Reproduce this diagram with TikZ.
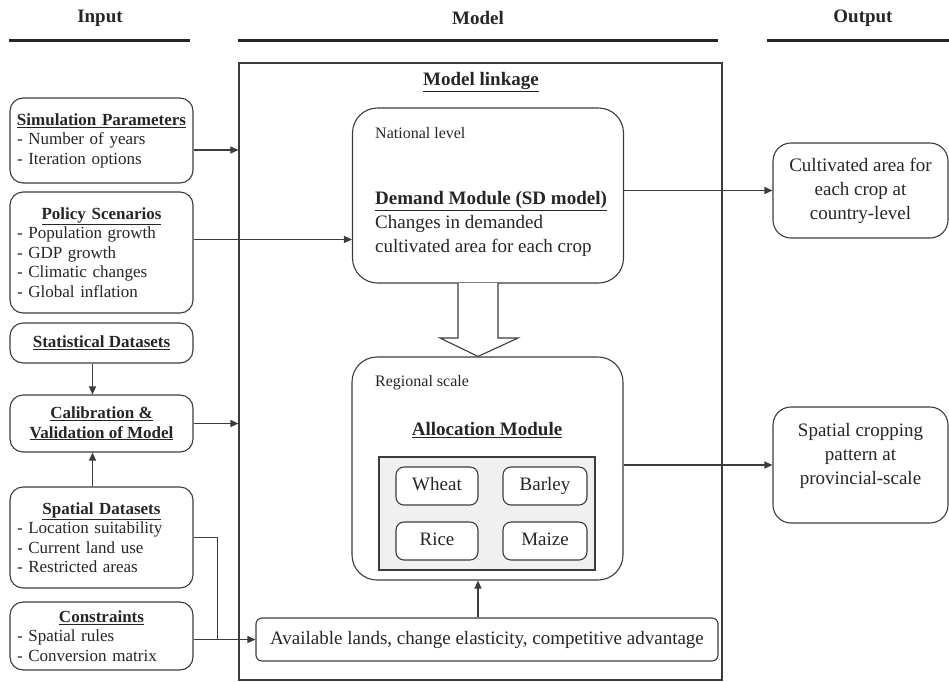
\documentclass[tikz,border=0pt]{standalone}
\usepackage{fontspec}
\setmainfont{Liberation Serif}
\usetikzlibrary{arrows.meta,calc}

\definecolor{ink}{HTML}{262626}
\definecolor{edge}{HTML}{3C3C3C}
\definecolor{panel}{HTML}{F0F0F0}

\newcommand\boxtitle[1]{\makebox[169pt][c]{\underline{\textbf{#1}}}}
\newcommand\ulbf[1]{\underline{\textbf{#1}}}

\begin{document}
\begin{tikzpicture}[x=1pt,y=-1pt,
  every node/.style={text=ink},
  base/.style={draw=edge, line width=1.1pt, fill=white, inner sep=0pt},
  leftbox/.style={base, rounded corners=13pt, minimum width=183pt,
    text width=169pt, align=left, font=\fontsize{17}{19.5}\selectfont},
  centerbox/.style={base, rounded corners=13pt, minimum width=183pt,
    align=center, font=\fontsize{17}{19.5}\selectfont},
  modbox/.style={base, rounded corners=25pt, minimum width=271pt},
  outbox/.style={base, rounded corners=18pt, minimum width=175pt,
    align=center, font=\fontsize{19}{24}\selectfont},
  cropbox/.style={base, rounded corners=8pt, minimum height=38pt,
    text height=13pt, text depth=4pt, font=\fontsize{19}{22}\selectfont},
  plain/.style={inner sep=0pt},
  arr/.style={draw=edge, line width=1.1pt, -{Triangle[length=8pt,width=7pt]}},
  link/.style={draw=edge, line width=1.1pt},
  rule/.style={draw=ink, line width=3pt}
]
\useasboundingbox (0,0) rectangle (949,681);

% column headings
\node[plain, font=\fontsize{19}{22}\selectfont\bfseries] (hin)  at (100,18) {Input};
\node[plain, font=\fontsize{19}{22}\selectfont\bfseries] (hmod) at (478,18) {Model};
\node[plain, font=\fontsize{19}{22}\selectfont\bfseries] (hout) at (863,18) {Output};
\draw[rule] (9,40) -- (190,40);
\draw[rule] (238,40) -- (718,40);
\draw[rule] (767,40) -- (949,40);

% model frame
\node[draw=edge, line width=1.1pt, minimum width=483pt, minimum height=617pt, inner sep=0pt]
  (frame) at (480.5,371.5) {};
\node[plain, font=\fontsize{19}{22}\selectfont] (mtitle) at (481,82) {\ulbf{Model linkage}};

% input boxes
\node[leftbox, minimum height=85pt] (sim) at (101.5,140.5)
  {\boxtitle{Simulation Parameters}\\- Number of years\\- Iteration options};
\node[leftbox, minimum height=121pt] (pol) at (101.5,252.5)
  {\boxtitle{Policy Scenarios}\\- Population growth\\- GDP growth\\- Climatic changes\\- Global inflation};
\node[centerbox, minimum height=40pt] (stat) at (101.5,343)
  {\ulbf{Statistical Datasets}};
\node[centerbox, minimum height=57pt] (cal) at (101.5,423.5)
  {\ulbf{Calibration \&}\\\ulbf{Validation of Model}};
\node[leftbox, minimum height=101pt] (spat) at (101.5,537.5)
  {\boxtitle{Spatial Datasets}\\- Location suitability\\- Current land use\\- Restricted areas};
\node[leftbox, minimum height=68pt] (cons) at (101.5,636)
  {\boxtitle{Constraints}\\- Spatial rules\\- Conversion matrix};

% demand module
\node[modbox, minimum height=175pt] (dem) at (488,195.5) {};
\node[plain, anchor=west, font=\fontsize{16}{19}\selectfont] (demlvl) at (375,133) {National level};
\node[plain, anchor=west, align=left, font=\fontsize{19}{24}\selectfont] (demtxt) at (375,224)
  {\ulbf{Demand Module (SD model)}\\Changes in demanded\\cultivated area for each crop};

% allocation module
\node[modbox, minimum height=223pt] (alloc) at (487.5,468.5) {};
\node[plain, anchor=west, font=\fontsize{16}{19}\selectfont] (alloclvl) at (375,383) {Regional scale};
\node[plain, font=\fontsize{19}{22}\selectfont] (alloctitle) at (487,430) {\ulbf{Allocation Module}};
\node[draw=edge, line width=1.1pt, fill=panel, minimum width=216pt, minimum height=113pt, inner sep=0pt]
  (crops) at (487,513.5) {};
\node[cropbox, minimum width=82pt] (wheat)  at (437,486) {Wheat};
\node[cropbox, minimum width=84pt] (barley) at (545,486) {Barley};
\node[cropbox, minimum width=82pt] (rice)   at (437,541) {Rice};
\node[cropbox, minimum width=84pt] (maize)  at (545,541) {Maize};

% land availability box
\node[base, rounded corners=6pt, minimum width=462pt, minimum height=43pt,
  font=\fontsize{19}{22}\selectfont] (avail) at (487,639.5)
  {Available lands, change elasticity, competitive advantage};

% outputs
\node[outbox, minimum height=95pt] (out1) at (860.5,190.5)
  {Cultivated area for\\each crop at\\country-level};
\node[outbox, minimum height=116pt] (out2) at (860.5,465) {};
\node[plain, align=center, font=\fontsize{19}{24}\selectfont] (out2txt) at (860.5,456)
  {Spatial cropping\\pattern at\\provincial-scale};

% hollow arrow from demand to allocation
\coordinate (flow) at (478,283);
\draw[draw=edge, line width=1.1pt, fill=white]
  ($(flow)+(-20,0)$) -- ++(0,55) -- ++(-18,0) -- (flow |- alloc.north)
  -- ($(flow)+(40,55)$) -- ++(-20,0) -- ++(0,-55);

% connector start points offset from the box centres
\coordinate (simout)  at ([yshift=-9.5pt]sim.east);
\coordinate (polout)  at ([yshift=13pt]pol.east);
\coordinate (statout) at ([xshift=-9pt]stat.south);
\coordinate (spatout) at ([xshift=-9pt]spat.north);
\coordinate (consout) at (cons.east |- avail.west);

% connectors
\draw[arr] (simout) -- (simout -| frame.west);
\draw[arr] (polout) -- (polout -| dem.west);
\draw[arr] (statout) -- (statout |- cal.north);
\draw[arr] (spatout) -- (spatout |- cal.south);
\draw[arr] (cal.east) -- (cal.east -| frame.west);
\draw[arr] (consout) -- (avail.west);
\draw[link] (spat.east) -| ($(consout)+(24,0)$);
\draw[arr] (avail.north -| flow) -- (alloc.south -| flow);
\draw[arr] (dem.east |- out1.west) -- (out1.west);
\draw[arr] (alloc.east |- out2.west) -- (out2.west);
\end{tikzpicture}
\end{document}
